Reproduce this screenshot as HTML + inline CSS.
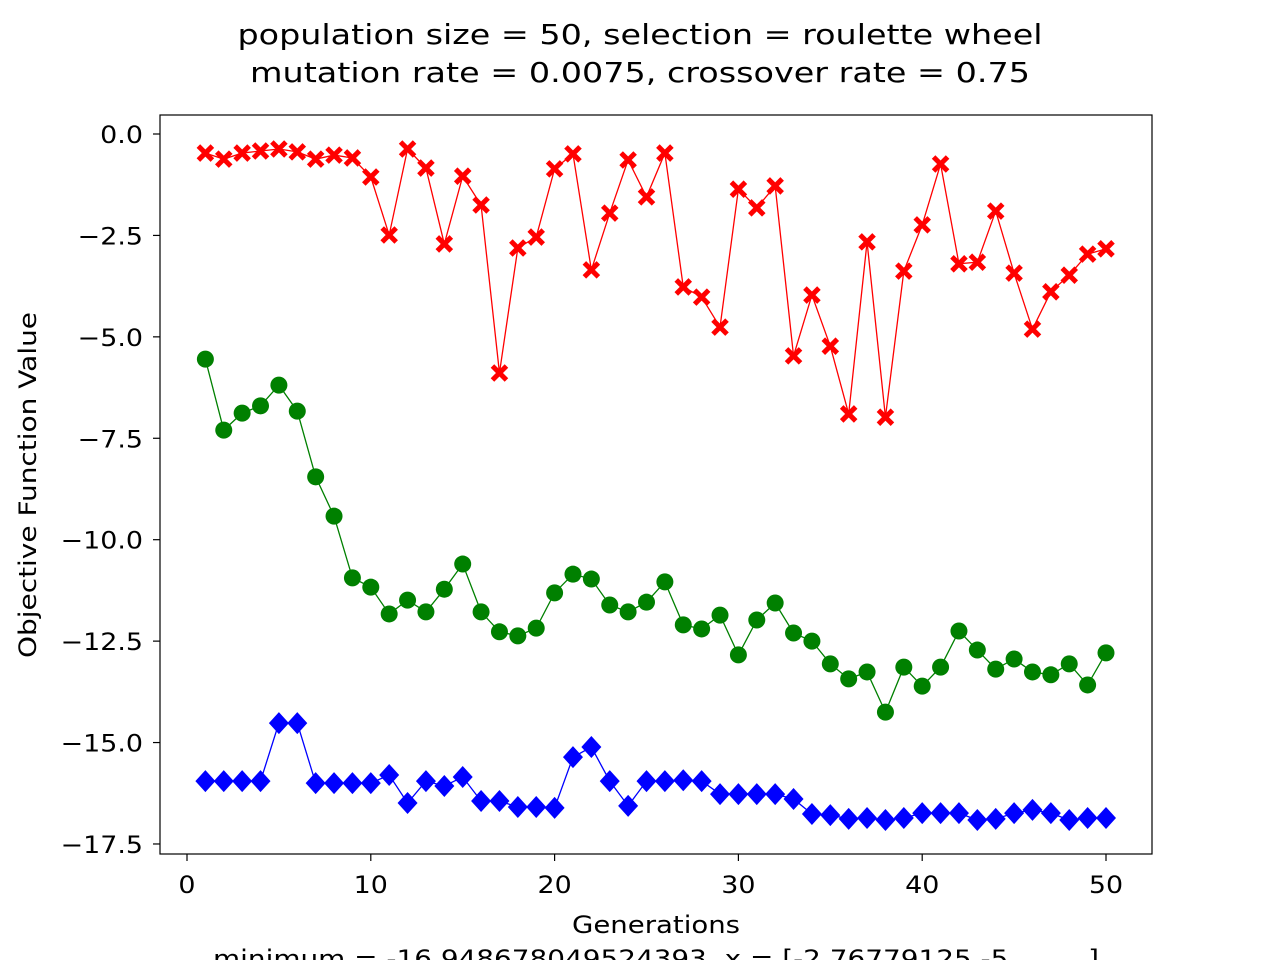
<!DOCTYPE html>
<html><head><meta charset="utf-8"><style>
html,body{margin:0;padding:0;background:#fff;overflow:hidden;width:1280px;height:960px}
svg text{font-family:"DejaVu Sans","Liberation Sans",sans-serif;fill:#000;white-space:pre}
</style></head><body>
<svg id="chart" width="1280" height="960" viewBox="0 0 1280 960" xmlns="http://www.w3.org/2000/svg">
<text x="640" y="44" font-size="28" text-anchor="middle" textLength="805" lengthAdjust="spacingAndGlyphs">population size = 50, selection = roulette wheel</text>
<text x="640" y="82" font-size="28" text-anchor="middle" textLength="780" lengthAdjust="spacingAndGlyphs">mutation rate = 0.0075, crossover rate = 0.75</text>
<g id="series"></g>
<rect x="160" y="115" width="992" height="739" fill="none" stroke="#000" stroke-width="1.2"/>
<g id="axes"></g>
<text x="656" y="933" font-size="24" text-anchor="middle" textLength="168" lengthAdjust="spacingAndGlyphs">Generations</text>
<text x="656" y="967" font-size="24" text-anchor="middle" textLength="886" lengthAdjust="spacingAndGlyphs">minimum = -16.948678049524393, x = [-2.76779125 -5.        ]</text>
<text transform="translate(36,485) rotate(-90)" font-size="24" text-anchor="middle" textLength="346" lengthAdjust="spacingAndGlyphs">Objective Function Value</text>
</svg>
<script>
const generations = Array.from({length:50},(_,i)=>i+1);
const worstValues = [-0.47,-0.62,-0.47,-0.42,-0.37,-0.44,-0.62,-0.52,-0.59,-1.06,-2.49,-0.37,-0.84,-2.71,-1.04,-1.75,-5.89,-2.81,-2.54,-0.86,-0.49,-3.35,-1.95,-0.64,-1.55,-0.47,-3.77,-4.02,-4.76,-1.36,-1.82,-1.28,-5.47,-3.97,-5.23,-6.90,-2.66,-6.98,-3.38,-2.24,-0.74,-3.20,-3.16,-1.90,-3.43,-4.81,-3.89,-3.48,-2.96,-2.83];
const meanValues = [-5.55,-7.30,-6.88,-6.70,-6.19,-6.83,-8.45,-9.42,-10.94,-11.17,-11.83,-11.49,-11.78,-11.22,-10.60,-11.78,-12.27,-12.37,-12.18,-11.31,-10.85,-10.97,-11.61,-11.78,-11.54,-11.04,-12.10,-12.20,-11.86,-12.84,-11.98,-11.56,-12.30,-12.50,-13.06,-13.43,-13.26,-14.25,-13.14,-13.61,-13.14,-12.25,-12.72,-13.19,-12.94,-13.26,-13.33,-13.06,-13.58,-12.79];
const bestValues = [-15.95,-15.95,-15.95,-15.95,-14.52,-14.52,-16.0,-16.0,-16.0,-16.0,-15.80,-16.49,-15.95,-16.07,-15.85,-16.44,-16.44,-16.59,-16.59,-16.61,-15.36,-15.11,-15.95,-16.56,-15.95,-15.95,-15.93,-15.95,-16.27,-16.27,-16.27,-16.27,-16.39,-16.76,-16.79,-16.88,-16.86,-16.91,-16.86,-16.74,-16.74,-16.74,-16.91,-16.88,-16.74,-16.66,-16.74,-16.91,-16.86,-16.86];
const xTicks = [0,10,20,30,40,50];
const yTicks = [0.0,-2.5,-5.0,-7.5,-10.0,-12.5,-15.0,-17.5];

const NS="http://www.w3.org/2000/svg";
const xs = v => 187 + v*18.38;
const ys = v => 134 - v*40.57;
function mk(tag,attrs,parent){const e=document.createElementNS(NS,tag);for(const k in attrs)e.setAttribute(k,attrs[k]);parent.appendChild(e);return e;}
function stretch(t){const w=t.getComputedTextLength();t.setAttribute('textLength',(w*1.12).toFixed(1));t.setAttribute('lengthAdjust','spacingAndGlyphs');}
const axes=document.getElementById('axes'), series=document.getElementById('series');
xTicks.forEach(t=>{
  const l=mk('line',{x1:xs(t),x2:xs(t),y1:854,y2:861,stroke:'#000','stroke-width':1.2},axes);
  
  
  const tx=mk('text',{x:xs(t),y:893,'font-size':24,'text-anchor':'middle'},axes);
  tx.textContent=String(t);
  
  
  stretch(tx);
});
yTicks.forEach(t=>{
  const l=mk('line',{x1:153,x2:160,y1:ys(t),y2:ys(t),stroke:'#000','stroke-width':1.2},axes);
  
  
  const tx=mk('text',{x:143,y:ys(t)+9,'font-size':24,'text-anchor':'end'},axes);
  tx.textContent=(t===0?'0.0':t.toFixed(1).replace('-','\u2212'));
  
  
  stretch(tx);
});
function drawSeries(vals,color,name,marker){
  const g=mk('g',{},series);
  
  
  const pts=vals.map((v,i)=>xs(generations[i])+','+ys(v)).join(' ');
  const pl=mk('polyline',{points:pts,fill:'none',stroke:color,'stroke-width':1.3},g);
  
  
  vals.forEach((v,i)=>{
    const x=xs(generations[i]),y=ys(v);let m;
    if(marker==='x'){
      const a=7,w=5;
      m=mk('path',{d:`M${x-a} ${y-a}L${x+a} ${y+a}M${x+a} ${y-a}L${x-a} ${y+a}`,stroke:color,'stroke-width':w,fill:'none'},g);
    } else if(marker==='o'){
      m=mk('circle',{cx:x,cy:y,r:8.5,fill:color},g);
    } else {
      m=mk('path',{d:`M${x} ${y-11}L${x+10} ${y}L${x} ${y+11}L${x-10} ${y}Z`,fill:color},g);
    }
    
    
  });
}
drawSeries(worstValues,'#ff0000','worst','x');
drawSeries(meanValues,'#008000','mean','o');
drawSeries(bestValues,'#0000ff','best','d');
</script>
</body></html>
